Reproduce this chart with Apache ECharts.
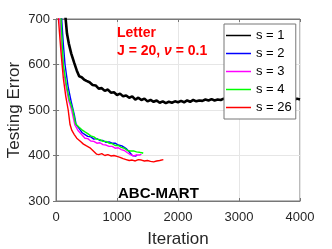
<!DOCTYPE html>
<html><head><meta charset="utf-8">
<script src="https://cdn.jsdelivr.net/npm/echarts@6/dist/echarts.min.js"></script>
<style>html,body{margin:0;padding:0;background:#fff}#c{width:332px;height:249px}</style>
</head><body><div id="c"></div>
<script>
// Tick labels
var xTicks = [0, 1000, 2000, 3000, 4000];
var yTicks = [300, 400, 500, 600, 700];
var seriesNames = ['s = 1', 's = 2', 's = 3', 's = 4', 's = 26'];

// s = 1 (black)
var iter1 = [150,180,210,250,300,340,380,420,460,500,550,600,650,700,750,800,850,900,950,1000,1050,1100,1150,1200,1250,1300,1350,1400,1450,1500,1550,1600,1650,1700,1750,1800,1850,1900,1950,2000,2050,2100,2150,2200,2250,2300,2350,2400,2450,2500,2550,2600,2650,2700,2750,2800,2850,2900,2950,3000,3050,3100,3150,3200,3250,3300,3350,3400,3450,3500,3550,3600,3650,3700,3750,3800,3850,3900,3950,4000];
var err1 = [712,668,646,624,603,587,574,572,567,564,561,555,554,547,548,542,545,538,539,533,536,530,532,527,530,523,527,522,525,519,522,518,521,516,519,515,518,516,519,517,520,517,521,518,522,519,521,520,523,521,524,521,523,522,525,522,524,523,526,523,525,522,526,524,526,523,525,524,527,523,525,524,526,522,525,523,526,522,525,523];

// s = 2 (blue)
var iter2 = [50,93,120,148,200,250,300,330,380,430,475,520,570,620,670,720,770,820,870,920,970,1020,1050,1080,1120,1160,1190,1220,1250,1280,1310,1330];
var err2 = [800,700,645,600,550,518,490,468,459,450,446,442,441,436,437,433,433,429,430,427,427,423,427,421,418,414,411,405,400,402,399,401];

// s = 3 (magenta)
var iter3 = [30,66,90,111,160,210,257,310,360,420,475,520,570,620,670,720,770,820,870,920,970,1020,1070,1120,1170,1220,1270,1320,1370,1400];
var err3 = [800,700,645,600,555,520,500,467,455,446,438,437,432,431,427,428,424,423,420,420,416,417,413,411,406,402,399,401,401,403];

// s = 4 (green)
var iter4 = [40,82,100,120,170,220,275,320,370,420,475,520,570,620,670,720,770,820,870,920,970,1020,1070,1120,1170,1220,1270,1320,1370,1410,1430];
var err4 = [800,700,650,600,555,522,500,470,463,457,452,448,443,441,436,435,431,431,427,426,422,422,418,416,411,410,410,408,407,406,405];

// s = 26 (red)
var iter26 = [0,40,80,120,160,200,230,260,300,340,393,450,500,557,612,667,700,750,800,850,900,950,1000,1050,1100,1150,1200,1250,1300,1350,1400,1450,1500,1550,1600,1650,1700,1760];
var err26 = [800,700,630,570,530,500,468,455,446,438,432,425,421,417,410,403,402,404,400,402,399,400,398,396,393,391,389,390,388,391,390,388,389,387,386,388,389,391];

var colors = ['#000000', '#0000ff', '#ff00ff', '#00ff00', '#ff0000'];
var iters = [iter1, iter2, iter3, iter4, iter26];
var errs = [err1, err2, err3, err4, err26];

function zip(a, b) { return a.map(function (v, i) { return [v, b[i]]; }); }

var FONT = 'Arial, "Liberation Sans", sans-serif';
var series = seriesNames.map(function (n, i) {
  return {
    name: n, type: 'line', data: zip(iters[i], errs[i]),
    showSymbol: false, symbol: 'none', clip: true,
    lineStyle: { color: colors[i], width: i === 0 ? 2.6 : 1.4 },
    itemStyle: { color: colors[i] },
    z: 2 + i
  };
});

var chart = echarts.init(document.getElementById('c'), null, { renderer: 'canvas' });
chart.setOption({
  animation: false,
  grid: { left: 56, right: 32, top: 19, bottom: 48, containLabel: false, outerBoundsMode: 'none', show: true, borderColor: '#777', borderWidth: 1, backgroundColor: 'transparent' },
  xAxis: [{
    type: 'value', min: xTicks[0], max: xTicks[xTicks.length - 1], interval: 1000,
    name: 'Iteration', nameLocation: 'middle', nameGap: 30, nameMoveOverlap: false,
    nameTextStyle: { fontSize: 17, color: '#262626', fontFamily: FONT },
    axisLine: { show: true, lineStyle: { color: '#777' } },
    axisTick: { show: true, inside: true, length: 3, lineStyle: { color: '#777' } },
    axisLabel: { fontSize: 13, color: '#262626', fontFamily: FONT, margin: 10, formatter: function (v) { return String(v); } },
    splitLine: { show: true, lineStyle: { color: '#e6e6e6', width: 1 } }
  }, {
    type: 'value', position: 'top', min: 0, max: 4000, interval: 1000,
    axisLine: { show: true, lineStyle: { color: '#777' } },
    axisTick: { show: true, inside: true, length: 3, lineStyle: { color: '#777' } },
    axisLabel: { show: false }, splitLine: { show: false }
  }],
  yAxis: [{
    type: 'value', min: yTicks[0], max: yTicks[yTicks.length - 1], interval: 100,
    name: 'Testing Error', nameLocation: 'middle', nameGap: 33, nameMoveOverlap: false,
    nameTextStyle: { fontSize: 17, color: '#262626', fontFamily: FONT },
    axisLine: { show: true, lineStyle: { color: '#777' } },
    axisTick: { show: true, inside: true, length: 3, lineStyle: { color: '#777' } },
    axisLabel: { fontSize: 13, color: '#262626', fontFamily: FONT, margin: 6 },
    splitLine: { show: true, lineStyle: { color: '#e6e6e6', width: 1 } }
  }, {
    type: 'value', position: 'right', min: 300, max: 700, interval: 100,
    axisLine: { show: true, lineStyle: { color: '#777' } },
    axisTick: { show: true, inside: true, length: 3, lineStyle: { color: '#777' } },
    axisLabel: { show: false }, splitLine: { show: false }
  }],
  legend: {
    data: seriesNames, orient: 'vertical', left: 224, top: 24,
    padding: [4, 4, 4, 2], itemGap: 3, itemWidth: 25, itemHeight: 1.5, itemTextGap: 2,
    icon: 'rect',
    backgroundColor: '#fff', borderColor: '#777', borderWidth: 1, borderRadius: 0,
    textStyle: { fontSize: 13, color: '#000', fontFamily: FONT, lineHeight: 15 }
  },
  graphic: [
    { type: 'text', left: 117, top: 26, z: 10, style: { text: 'Letter', fill: '#ff0000', font: 'bold 14px ' + FONT } },
    { type: 'text', left: 117, top: 44, z: 10, style: {
      text: '{a|J = 20, }{b|ν}{a| = 0.1}',
      rich: { a: { fill: '#ff0000', font: 'bold 14px ' + FONT }, b: { fill: '#ff0000', font: 'italic bold 14px ' + FONT } }
    } },
    { type: 'text', left: 118, top: 186, z: 10, style: { text: 'ABC-MART', fill: '#000', font: 'bold 15px ' + FONT } }
  ],
  series: series
});
</script></body></html>
